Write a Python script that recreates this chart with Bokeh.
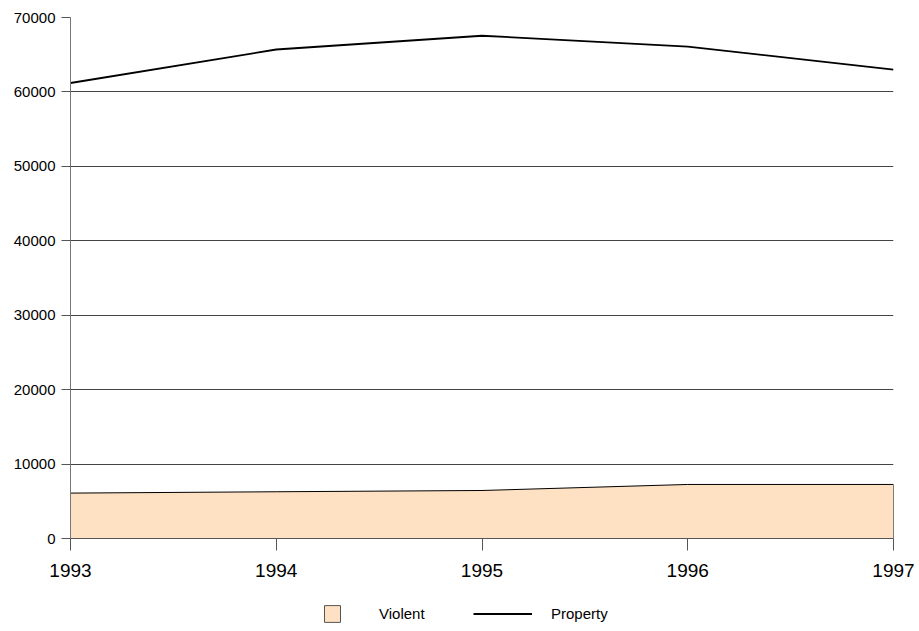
from bokeh.plotting import figure
from bokeh.layouts import column
from bokeh.models import (FixedTicker, BasicTickFormatter, Legend, LegendItem,
                          Range1d, ColumnDataSource)
from bokeh.embed import file_html
from bokeh.resources import INLINE

years = [1993, 1994, 1995, 1996, 1997]
violent = [6100, 6280, 6450, 7260, 7260]
property_crime = [61200, 65700, 67550, 66100, 63000]
y_ticks = [0, 10000, 20000, 30000, 40000, 50000, 60000, 70000]
series_names = ["Violent", "Property"]

FONT = "Liberation Sans"
FILL = "#FEE0C2"

src = ColumnDataSource(dict(x=years, v=violent, p=property_crime, z=[0] * len(years)))

p = figure(width=916, height=590, output_backend="svg", toolbar_location=None,
           x_range=Range1d(1993, 1997), y_range=Range1d(0, 70000),
           min_border_left=70, min_border_right=23, min_border_top=17,
           min_border_bottom=52)
p.outline_line_color = None
p.background_fill_color = "white"
p.border_fill_color = "white"

p.varea(x="x", y1="z", y2="v", source=src, fill_color=FILL)
p.line(x="x", y="v", source=src, line_color="black", line_width=1)
p.segment(x0=years[-1], y0=0, x1=years[-1], y1=violent[-1], line_color="black", line_width=1)
p.line(x="x", y="p", source=src, line_color="black", line_width=1.8)

# axes
p.xaxis.ticker = FixedTicker(ticks=years)
p.xaxis.minor_tick_line_color = None
p.xaxis.major_tick_in = 0
p.xaxis.major_tick_out = 12
p.xaxis.major_tick_line_color = "#555555"
p.xaxis.axis_line_color = "#555555"
p.xaxis.major_label_standoff = 13
p.xaxis.major_label_text_font = FONT
p.xaxis.major_label_text_font_size = "19px"
p.xaxis.major_label_text_color = "black"
p.xaxis.formatter = BasicTickFormatter(use_scientific=False)

p.yaxis.ticker = FixedTicker(ticks=y_ticks)
p.yaxis.minor_tick_line_color = None
p.yaxis.major_tick_in = 0
p.yaxis.major_tick_out = 9
p.yaxis.major_tick_line_color = "#555555"
p.yaxis.axis_line_color = "#777777"
p.yaxis.major_label_standoff = 6
p.yaxis.major_label_text_font = FONT
p.yaxis.major_label_text_font_size = "15px"
p.yaxis.major_label_text_color = "black"
p.yaxis.formatter = BasicTickFormatter(use_scientific=False)

p.xgrid.grid_line_color = None
p.ygrid.grid_line_color = "#444444"
p.ygrid.grid_line_width = 1
p.ygrid.ticker = FixedTicker(ticks=y_ticks)

# legend strip below the chart (its frame is aligned with the chart's frame)
lg = figure(width=916, height=40, output_backend="svg", toolbar_location=None,
            x_range=Range1d(0, 1), y_range=Range1d(0, 1),
            x_axis_location=None, y_axis_location=None,
            min_border_left=0, min_border_right=0, min_border_top=0, min_border_bottom=0)
lg.outline_line_color = None
lg.xgrid.grid_line_color = None
lg.ygrid.grid_line_color = None
# legend-only renderers, kept outside the visible range
r_v = lg.quad(left=[5], right=[6], top=[6], bottom=[5], fill_color=FILL, line_color="#555555")
r_p = lg.line(x=[5, 6], y=[5, 5], line_color="black", line_width=1.8)

common = dict(orientation="horizontal", glyph_height=21, padding=0, margin=0,
              border_line_color=None, background_fill_alpha=0,
              label_text_font=FONT, label_text_font_size="15px", label_height=21,
              label_text_color="black")
leg1 = Legend(items=[LegendItem(label=series_names[0], renderers=[r_v])],
              location=(252, 6), glyph_width=20, label_standoff=37, **common)
leg2 = Legend(items=[LegendItem(label=series_names[1], renderers=[r_p])],
              location=(403, 6), glyph_width=59, label_standoff=19, **common)
lg.add_layout(leg1, "center")
lg.add_layout(leg2, "center")

layout = column(p, lg, spacing=0)
open("out.html", "w").write(file_html(layout, INLINE))
